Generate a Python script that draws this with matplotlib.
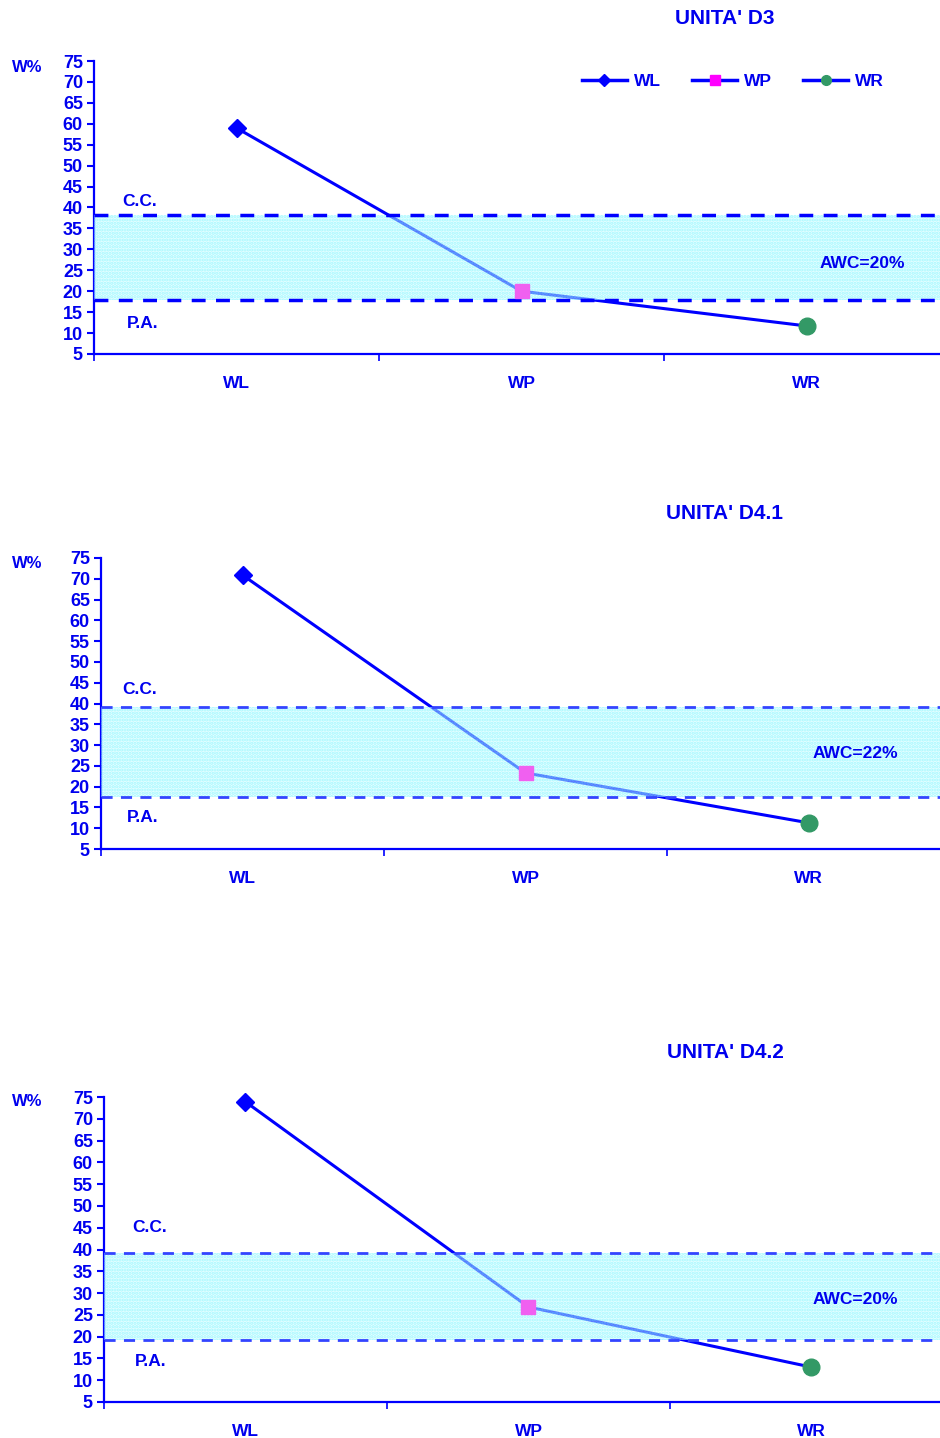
import matplotlib
matplotlib.use("Agg")
import matplotlib.pyplot as plt
from matplotlib.lines import Line2D

plt.rcParams['font.family'] = ['Liberation Sans', 'DejaVu Sans']
plt.rcParams['font.weight'] = 'bold'
plt.rcParams['hatch.linewidth'] = 1.6

# ---- data ----
categories = ["WL", "WP", "WR"]
titles = ["UNITA' D3", "UNITA' D4.1", "UNITA' D4.2"]
values_d3 = [59.0, 20.0, 11.7]
values_d41 = [70.9, 23.3, 11.3]
values_d42 = [73.9, 26.8, 13.0]
cc_levels = [38.2, 39.2, 39.2]
pa_levels = [17.8, 17.5, 19.2]
awc_labels = ["AWC=20%", "AWC=22%", "AWC=20%"]
yticks = [5, 10, 15, 20, 25, 30, 35, 40, 45, 50, 55, 60, 65, 70, 75]

BLUE = '#0000FF'
TXT = '#0000EE'
MAG = '#FF00FF'
MAG_IN_BAND = '#F060F0'
GREEN = '#339966'

W, H = 940, 1438
fig = plt.figure(figsize=(W / 100, H / 100), dpi=100)

def px(x, y):
    return x / W, 1 - y / H

panels = [
    dict(left=94, top=61, bottom=354, spacing=285, vals=values_d3,
         title_y=18, wy=68, cc=(140, 201), pa=(143, 323), awc=(862, 264), dash_lw=2.5, dash_col=BLUE),
    dict(left=101, top=558, bottom=849, spacing=283, vals=values_d41,
         title_y=514, wy=563, cc=(140, 690), pa=(143, 817), awc=(855, 754), dash_lw=2.0, dash_col='#3344FF'),
    dict(left=104, top=1097, bottom=1402, spacing=283, vals=values_d42,
         title_y=1053, wy=1101, cc=(150, 1227), pa=(151, 1362), awc=(855, 1300), dash_lw=2.0, dash_col='#3344FF'),
]

for i, p in enumerate(panels):
    right = p['left'] + 3 * p['spacing']
    l, b = px(p['left'], p['bottom'])
    ax = fig.add_axes([l, b, (right - p['left']) / W, (p['bottom'] - p['top']) / H])
    x = list(range(len(categories)))
    vals = p['vals']
    ax.plot(x, vals, color=BLUE, lw=2.2, zorder=2, solid_joinstyle='round')
    ax.axhspan(pa_levels[i], cc_levels[i], facecolor='#C8FFFF', edgecolor='#55EEFF',
               hatch='.....', lw=0, alpha=0.45, zorder=4)
    ax.axhline(cc_levels[i], color=p['dash_col'], lw=p['dash_lw'], dashes=(4, 3), zorder=5)
    ax.axhline(pa_levels[i], color=p['dash_col'], lw=p['dash_lw'], dashes=(4, 3), zorder=5)
    ax.plot([x[0]], [vals[0]], marker='D', ms=9, color=BLUE, ls='none', zorder=6, clip_on=False)
    ax.plot([x[1]], [vals[1]], marker='s', ms=10, color=MAG_IN_BAND, ls='none', zorder=6, clip_on=False)
    ax.plot([x[2]], [vals[2]], marker='o', ms=12, color=GREEN, ls='none', zorder=6, clip_on=False)

    ax.set_xlim(-0.5, 2.5)
    ax.set_ylim(5, 75)
    ax.set_yticks(yticks)
    ax.set_yticklabels([str(t) for t in yticks])
    ax.set_xticks([-0.5, 0.5, 1.5, 2.5])
    ax.set_xticklabels([])
    ax.set_xticks(x, minor=True)
    ax.set_xticklabels(categories, minor=True)
    ax.tick_params(axis='x', which='minor', length=0, pad=16, labelsize=12.5, labelcolor=TXT)
    ax.tick_params(axis='x', which='major', length=5, width=1.2, color=BLUE, direction='out')
    ax.tick_params(axis='y', length=5, width=1.5, color=BLUE, labelsize=13, labelcolor=TXT, pad=3)
    for s in ['top', 'right']:
        ax.spines[s].set_visible(False)
    for s in ['left', 'bottom']:
        ax.spines[s].set_color(BLUE)
        ax.spines[s].set_linewidth(1.6)
    ax.patch.set_alpha(0)

    fig.text(*px(725, p['title_y']), titles[i], color=TXT, fontsize=15, ha='center', va='center')
    fig.text(*px(27, p['wy']), "W%", color=TXT, fontsize=12, ha='center', va='center')
    fig.text(*px(*p['cc']), "C.C.", color=TXT, fontsize=12.5, ha='center', va='center')
    fig.text(*px(*p['pa']), "P.A.", color=TXT, fontsize=12.5, ha='center', va='center')
    fig.text(*px(*p['awc']), awc_labels[i], color=TXT, fontsize=12.5, ha='center', va='center')

    if i == 0:
        handles = [
            Line2D([], [], color=BLUE, lw=2.5, marker='D', ms=6, mfc=BLUE, mec=BLUE),
            Line2D([], [], color=BLUE, lw=2.5, marker='s', ms=7, mfc=MAG, mec=MAG),
            Line2D([], [], color=BLUE, lw=2.5, marker='o', ms=7, mfc=GREEN, mec=GREEN),
        ]
        leg = fig.legend(handles, categories, loc='center', bbox_to_anchor=px(733, 81),
                         ncol=3, frameon=False, handlelength=2.6, handletextpad=0.4,
                         columnspacing=1.8, prop=dict(weight='bold', size=12.5))
        for t in leg.get_texts():
            t.set_color(TXT)

fig.savefig("out.png", dpi=100)
